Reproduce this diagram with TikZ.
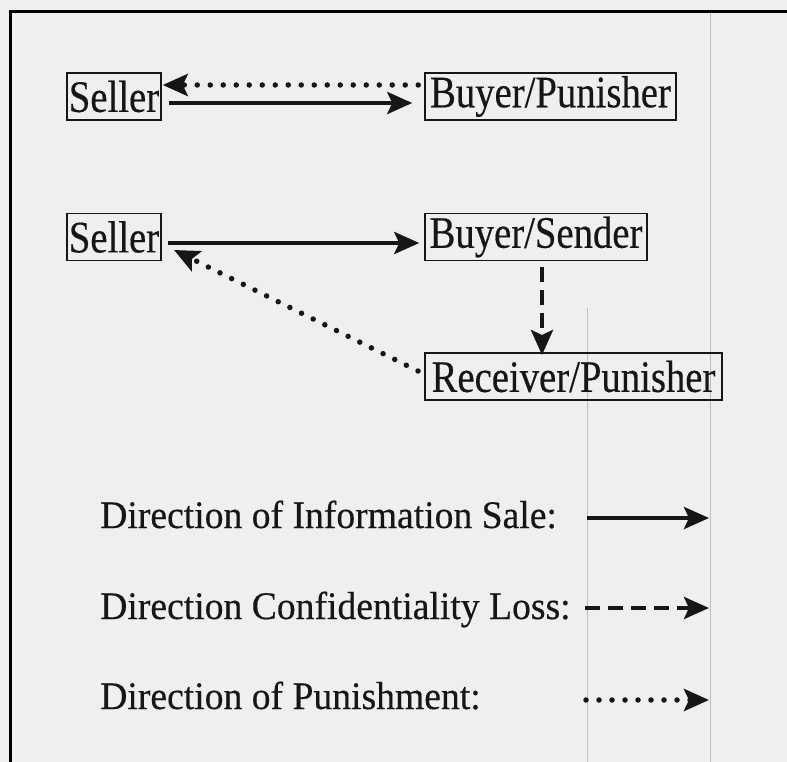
\documentclass[tikz,border=0pt]{standalone}
\usepackage{graphicx}
\usepackage{fontspec}
\setmainfont{Liberation Serif}[FakeBold=0.4]
\usetikzlibrary{arrows.meta}
\definecolor{paper}{RGB}{241,239,237}
\definecolor{ink}{RGB}{22,22,22}
\definecolor{faint}{RGB}{190,190,190}
\newcommand{\boxtext}[1]{\scalebox{0.86}[1]{#1}}
\newcommand{\legtext}[1]{\scalebox{0.965}[1]{#1}}
\tikzset{
  actor/.style={draw=ink, line width=1.5pt, inner sep=0pt, font=\fontsize{45}{48}\selectfont, text=ink, minimum height=47pt},
  legendtext/.style={anchor=base west, inner sep=0pt, font=\fontsize{39}{42}\selectfont, text=ink},
  tip/.style={-{Stealth[length=25pt,width=22pt,inset=5pt]}},
  sale/.style={tip, draw=ink, line width=4pt},
  loss/.style={tip, draw=ink, line width=4pt, dash pattern=on 15pt off 8pt},
  punish/.style={tip, draw=ink, line width=5.5pt, line cap=round, dash pattern=on 0pt off 13pt},
}
\begin{document}
\begin{tikzpicture}[x=1pt,y=-1pt]
\fill[paper] (0,0) rectangle (787,762);
\useasboundingbox (0,0) rectangle (787,762);
% faint scan lines
\draw[faint, line width=1pt] (710,13) -- (710,762);
\draw[faint, line width=1pt] (587,308) -- (587,762);
% frame
\draw[black, line width=3pt] (10.5,762) -- (10.5,11.5) -- (787,11.5);

% top row
\node[actor, minimum width=94pt] (s1) at (114,96.5) {\boxtext{Seller}};
\node[actor, minimum width=251pt] (b1) at (550.5,96.5) {\boxtext{Buyer/Punisher}};
\coordinate (s1a) at ([yshift=11.5pt]s1.east);
\coordinate (b1a) at ([yshift=11.5pt,xshift=-6pt]b1.west);
\coordinate (s1b) at ([yshift=-6.5pt,xshift=7pt]s1.east);
\coordinate (b1b) at ([yshift=-6.5pt,xshift=-12pt]b1.west);
\draw[punish] (b1a) -- ([xshift=1pt]s1a);
\draw[sale] (s1b) -- (b1b);

% middle
\node[actor, minimum width=94pt] (s2) at (114,237) {\boxtext{Seller}};
\node[actor, minimum width=222pt] (b2) at (536,237) {\boxtext{Buyer/Sender}};
\node[actor, minimum width=297pt] (r2) at (573.5,376.5) {\boxtext{Receiver/Punisher}};
\coordinate (s2a) at ([yshift=-6pt,xshift=6pt]s2.east);
\coordinate (b2a) at ([yshift=-6pt,xshift=-5pt]b2.west);
\draw[sale] (s2a) -- (b2a);
\coordinate (bd) at (542,267);
\coordinate (rd) at (542,355);
\draw[loss] (bd) -- (rd);
\coordinate (rp) at (418,371);
\coordinate (sp) at (174,250);
\draw[punish] (rp) -- (sp);

% legend
\node[legendtext] (l1) at (100,528) {\legtext{Direction of Information Sale:}};
\node[legendtext] (l2) at (100,619) {\legtext{Direction Confidentiality Loss:}};
\node[legendtext] (l3) at (100,709) {\legtext{Direction of Punishment:}};
\coordinate (a1) at (587,518);
\coordinate (a1e) at (709,518);
\coordinate (a2) at (585,608);
\coordinate (a2e) at (709,608);
\coordinate (a3) at (586,700);
\coordinate (a3e) at (709,700);
\draw[sale] (a1) -- (a1e);
\draw[loss] (a2) -- (a2e);
\draw[punish] (a3) -- (a3e);
\end{tikzpicture}
\end{document}
